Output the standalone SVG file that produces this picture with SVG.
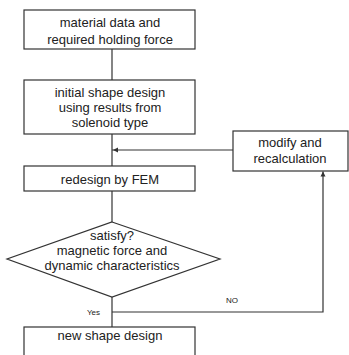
<svg xmlns="http://www.w3.org/2000/svg" width="349" height="355" viewBox="0 0 349 355">
<style>
.box{fill:#fff;stroke:#333;stroke-width:1.2}
.ln{fill:none;stroke:#333;stroke-width:1.2}
text{font-family:"Liberation Sans",Arial,sans-serif;font-size:13px;fill:#222;text-anchor:middle}
.sm{font-size:8px}
</style>
<defs>
<marker id="ah" markerWidth="6" markerHeight="6" refX="5" refY="3" orient="auto" markerUnits="userSpaceOnUse">
<path d="M0,0.5 L5,3 L0,5.5 Z" fill="#333"/>
</marker>
</defs>
<rect width="349" height="355" fill="#fff"/>
<g id="connectors">
<line class="ln" x1="112" y1="49" x2="112" y2="80"/>
<line class="ln" x1="112" y1="134" x2="112" y2="166"/>
<line class="ln" x1="233" y1="150" x2="112" y2="150"/>
<path d="M118,147.5 L113,150 L118,152.5 Z" fill="#333"/>
<line class="ln" x1="112" y1="191" x2="112" y2="222"/>
<line class="ln" x1="112" y1="297" x2="112" y2="327"/>
<path class="ln" d="M112,312 H323 V171.5" marker-end="url(#ah)"/>
<text class="sm" x="100" y="315" style="text-anchor:end">Yes</text>
<text class="sm" x="232" y="303">NO</text>
</g>
<g id="n1">
<rect class="box" x="24" y="10" width="171" height="39"/>
<text x="110" y="27">material data and</text>
<text x="110" y="44">required holding force</text>
</g>
<g id="n2">
<rect class="box" x="24" y="80" width="171" height="54"/>
<text x="110" y="97">initial shape design</text>
<text x="110" y="112">using results from</text>
<text x="110" y="127">solenoid type</text>
</g>
<g id="n3">
<rect class="box" x="233" y="131" width="115" height="40"/>
<text x="290" y="147">modify and</text>
<text x="290" y="163">recalculation</text>
</g>
<g id="n4">
<rect class="box" x="24" y="166" width="171" height="25"/>
<text x="110" y="184">redesign by FEM</text>
</g>
<g id="n5">
<polygon class="box" points="112,222 220,259 112,297 7,259"/>
<text x="112" y="240">satisfy?</text>
<text x="112" y="255">magnetic force and</text>
<text x="112" y="270">dynamic characteristics</text>
</g>
<g id="n6">
<rect class="box" x="24" y="327" width="171" height="40"/>
<text x="110" y="340">new shape design</text>
</g>
</svg>
